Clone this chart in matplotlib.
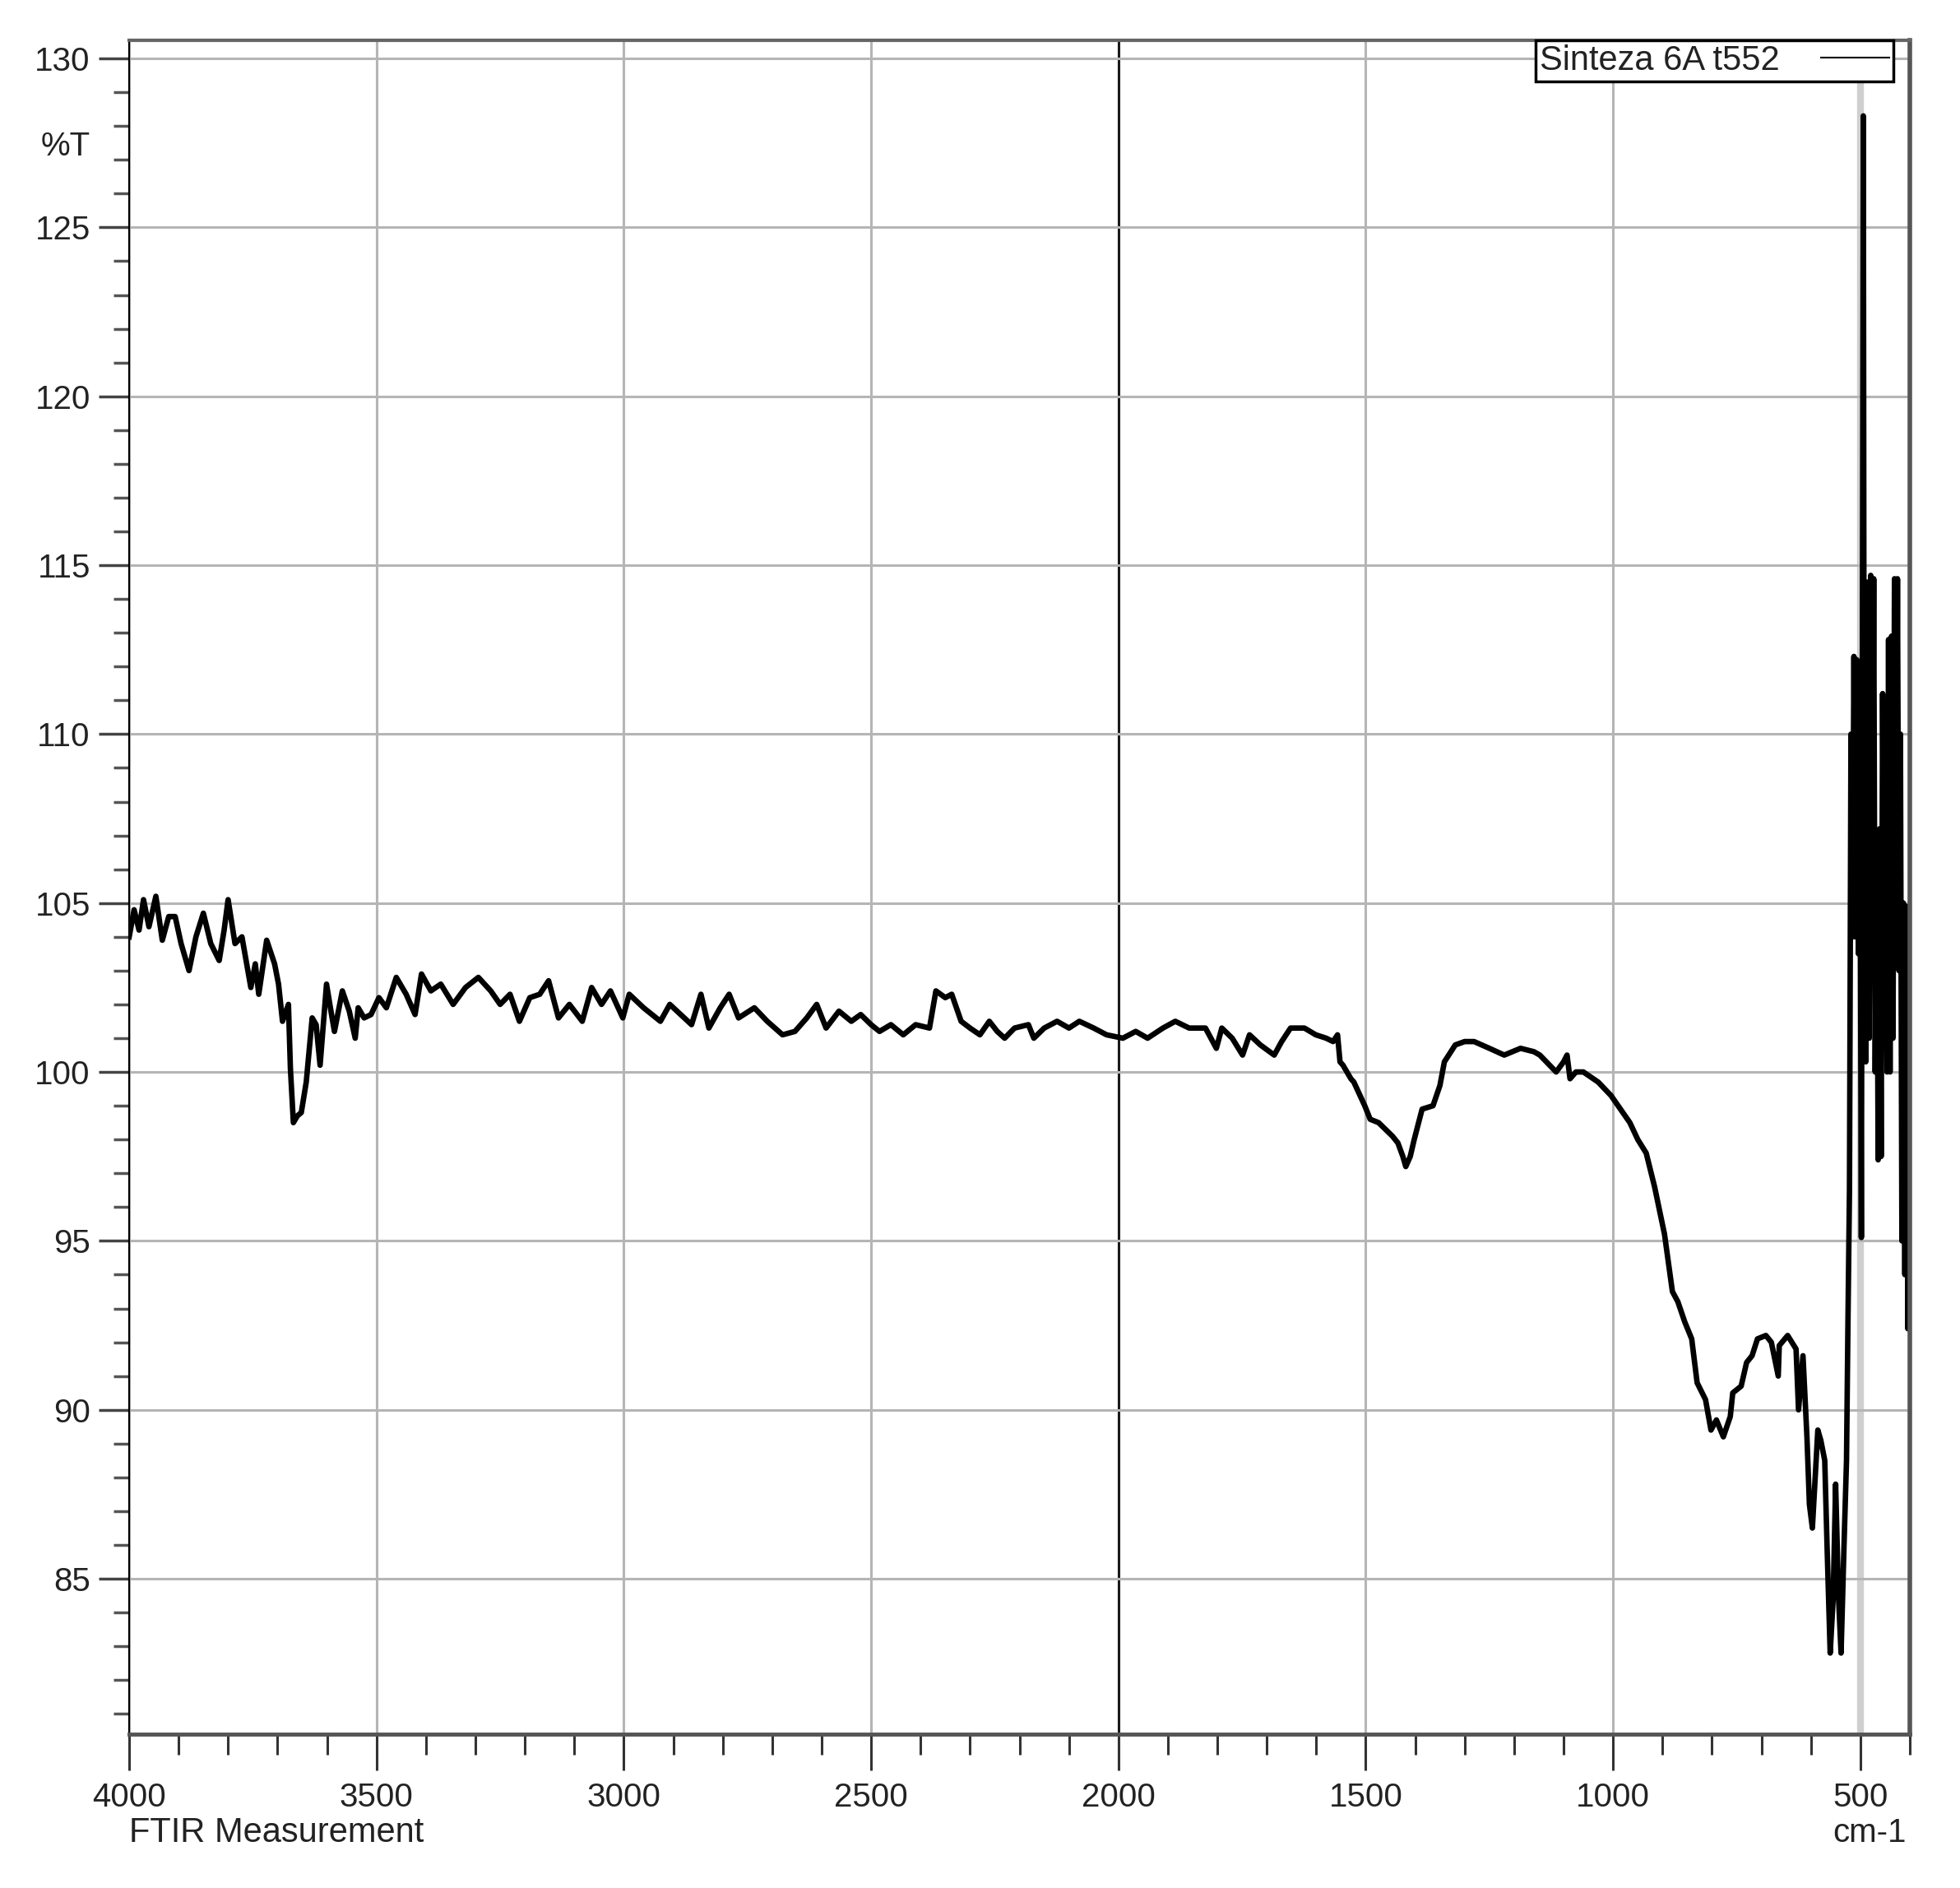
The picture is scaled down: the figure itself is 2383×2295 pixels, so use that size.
import matplotlib
matplotlib.use('Agg')
import matplotlib.pyplot as plt
from matplotlib.lines import Line2D
from matplotlib.ticker import MultipleLocator

plt.rcParams['font.family'] = ['Liberation Sans', 'DejaVu Sans']

# spectrum (cm-1, %T)
wavenumber = [
    4000, 3990, 3980, 3971, 3960, 3946, 3933, 3920, 3907, 3895, 3879, 3865,
    3850, 3835, 3818, 3808, 3800, 3786, 3772, 3754, 3745, 3738, 3722, 3706,
    3698, 3690, 3678, 3674, 3668, 3660, 3652, 3642, 3630, 3622, 3614, 3601,
    3592, 3585, 3569, 3555, 3543, 3537, 3525, 3511, 3495, 3480, 3460, 3440,
    3422, 3409, 3390, 3370, 3345, 3320, 3294, 3269, 3250, 3230, 3211, 3190,
    3170, 3152, 3132, 3110, 3084, 3065, 3045, 3027, 3002, 2989, 2960, 2926,
    2907, 2885, 2863, 2844, 2828, 2805, 2787, 2768, 2736, 2710, 2679, 2654,
    2630, 2610, 2591, 2565, 2540, 2521, 2500, 2483, 2460, 2435, 2410, 2382,
    2375, 2369, 2350, 2337, 2318, 2300, 2280, 2261, 2245, 2230, 2210, 2182,
    2171, 2150, 2124, 2100, 2079, 2050, 2024, 1991, 1965, 1941, 1910, 1885,
    1857, 1824, 1802, 1791, 1770, 1749, 1735, 1713, 1685, 1670, 1652, 1624,
    1601, 1580, 1566, 1557, 1552, 1546, 1530, 1524, 1502, 1491, 1474, 1460,
    1446, 1435, 1425, 1419, 1410, 1402, 1386, 1364, 1350, 1341, 1319, 1300,
    1281, 1250, 1220, 1187, 1160, 1148, 1115, 1100, 1093, 1087, 1075, 1060,
    1030, 1004, 985, 966, 950, 933, 916, 896, 880, 869, 855, 841,
    830, 813, 802, 791, 777, 763, 758, 741, 730, 719, 708, 691,
    680, 666, 664, 647, 630, 625, 616, 608, 603, 597, 586, 580,
    572, 567, 561, 555, 550, 544, 539, 533, 528, 525, 522, 519,
    516, 513, 510, 507, 504, 501, 498, 496, 494, 492, 489, 485,
    482, 479, 476, 473, 470, 467, 464, 461, 458, 455, 452, 449,
    446, 443, 440, 437, 434, 431, 428, 425, 422, 419, 416, 413,
    410, 407, 404, 401, 400,
]
transmittance = [
    104.0, 104.8, 104.2, 105.1, 104.3, 105.2, 103.9, 104.6, 104.6, 103.8, 103.0, 104.0,
    104.7, 103.8, 103.3, 104.2, 105.1, 103.8, 104.0, 102.5, 103.2, 102.3, 103.9, 103.2,
    102.6, 101.5, 102.0, 100.1, 98.5, 98.7, 98.8, 99.7, 101.6, 101.4, 100.2, 102.6,
    101.8, 101.2, 102.4, 101.8, 101.0, 101.9, 101.6, 101.7, 102.2, 101.9, 102.8, 102.3,
    101.7, 102.9, 102.4, 102.6, 102.0, 102.5, 102.8, 102.4, 102.0, 102.3, 101.5, 102.2,
    102.3, 102.7, 101.6, 102.0, 101.5, 102.5, 102.0, 102.4, 101.6, 102.3, 101.9, 101.5,
    102.0, 101.7, 101.4, 102.3, 101.3, 101.9, 102.3, 101.6, 101.9, 101.5, 101.1, 101.2,
    101.6, 102.0, 101.3, 101.8, 101.5, 101.7, 101.4, 101.2, 101.4, 101.1, 101.4, 101.3,
    101.9, 102.4, 102.2, 102.3, 101.5, 101.3, 101.1, 101.5, 101.2, 101.0, 101.3, 101.4,
    101.0, 101.3, 101.5, 101.3, 101.5, 101.3, 101.1, 101.0, 101.2, 101.0, 101.3, 101.5,
    101.3, 101.3, 100.7, 101.3, 101.0, 100.5, 101.1, 100.8, 100.5, 100.9, 101.3, 101.3,
    101.1, 101.0, 100.9, 101.1, 100.3, 100.2, 99.8, 99.7, 99.0, 98.6, 98.5, 98.3,
    98.1, 97.9, 97.5, 97.2, 97.5, 98.0, 98.9, 99.0, 99.6, 100.3, 100.8, 100.9,
    100.9, 100.7, 100.5, 100.7, 100.6, 100.5, 100.0, 100.3, 100.5, 99.8, 100.0, 100.0,
    99.7, 99.3, 98.9, 98.5, 98.0, 97.6, 96.6, 95.2, 93.5, 93.2, 92.6, 92.1,
    90.8, 90.3, 89.4, 89.7, 89.2, 89.8, 90.5, 90.7, 91.4, 91.6, 92.1, 92.2,
    92.0, 91.0, 91.9, 92.2, 91.8, 90.0, 91.6, 89.2, 87.2, 86.5, 89.4, 89.1,
    88.5, 85.8, 82.8, 84.4, 87.8, 84.4, 82.8, 86.0, 88.5, 92.7, 96.5, 110.0,
    104.0, 112.3, 104.0, 112.2, 103.5, 110.0, 95.1, 112.0, 128.3, 103.0, 100.3, 114.5,
    101.0, 114.7, 103.0, 114.6, 100.0, 107.0, 97.4, 107.2, 97.5, 111.2, 103.0, 111.0,
    100.0, 112.8, 100.0, 112.9, 101.0, 114.6, 104.0, 114.6, 103.0, 110.0, 95.0, 105.0,
    94.0, 104.9, 92.4, 104.9, 93.0,
]
series_label = 'Sinteza 6A t552'

x_ticks = [4000, 3500, 3000, 2500, 2000, 1500, 1000, 500]
y_ticks = [85, 90, 95, 100, 105, 110, 115, 120, 125, 130]

text_color = '#222222'

fig = plt.figure(figsize=(23.83, 22.95), dpi=100)
ax = fig.add_axes([0.0659, 0.0815, 0.9085, 0.8972])

ax.plot(wavenumber, transmittance, color='black', lw=4.8, solid_joinstyle='round')

ax.set_xlim(4000, 400)
ax.set_ylim(80.4, 130.54)
ax.set_xticks(x_ticks)
ax.set_xticklabels([str(v) for v in x_ticks])
ax.xaxis.set_minor_locator(MultipleLocator(100))
ax.set_yticks(y_ticks)
ax.set_yticklabels([str(v) for v in y_ticks])
ax.yaxis.set_minor_locator(MultipleLocator(1))

ax.tick_params(axis='x', which='major', direction='out', length=32, width=2.2,
               color='#333333', pad=10, labelsize=29, labelcolor=text_color)
ax.tick_params(axis='x', which='minor', direction='out', length=18, width=2.2, color='#333333')
ax.tick_params(axis='y', which='major', direction='out', length=27, width=2.5,
               color='#444444', pad=7, labelsize=29, labelcolor=text_color)
ax.tick_params(axis='y', which='minor', direction='out', length=14, width=2.5, color='#555555')

# grid, with the odd dark line at 2000 and the wide light one at 500
ax.set_axisbelow(True)
ax.grid(True, which='major', color='#b5b5b5', lw=2.2)
for gl in ax.get_xgridlines():
    x = gl.get_xdata()[0]
    if x == 2000:
        gl.set_color('#1a1a1a')
        gl.set_linewidth(2.2)
    elif x == 500:
        gl.set_color('#cfcfcf')
        gl.set_linewidth(6)

ax.spines['left'].set_color('black')
ax.spines['left'].set_linewidth(1.6)
ax.spines['bottom'].set_color('#555555')
ax.spines['bottom'].set_linewidth(3.5)
ax.spines['top'].set_color('#666666')
ax.spines['top'].set_linewidth(3)
ax.spines['right'].set_color('#555555')
ax.spines['right'].set_linewidth(4)

leg = ax.legend(handles=[Line2D([], [], color='black', lw=1.5)], labels=[series_label],
                loc='upper right', bbox_to_anchor=(0.9908, 1.0), borderaxespad=0,
                markerfirst=False, fancybox=False, framealpha=1, edgecolor='black',
                fontsize=30, handlelength=2.0, borderpad=0.12, handletextpad=1.2)
leg.get_frame().set_linewidth(2.5)
for t in leg.get_texts():
    t.set_color(text_color)

fig.text(0.0462, 0.9224, '%T', ha='right', va='center', fontsize=29, color=text_color)
fig.text(0.0659, 1 - 2228 / 2295, 'FTIR Measurement', ha='left', va='center',
         fontsize=30, color=text_color)
fig.text(2318 / 2383, 1 - 2228 / 2295, 'cm-1', ha='right', va='center',
         fontsize=29, color=text_color)

fig.savefig('out.png', dpi=100)
